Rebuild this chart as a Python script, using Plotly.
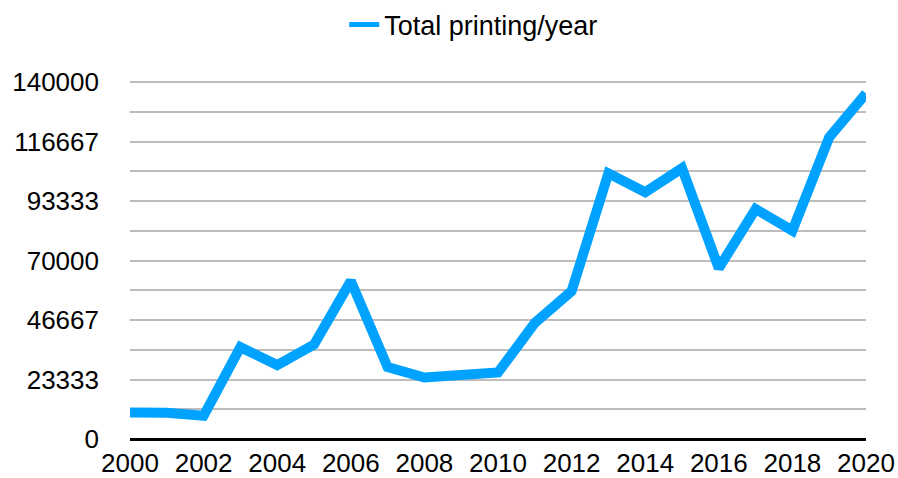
import plotly.graph_objects as go

years = list(range(2000, 2021))
totals = [10400, 10300, 9100, 36000, 29000, 37000, 62000, 28200, 24100, 25500, 26100,
          45500, 58000, 104200, 96800, 106200, 67000, 90200, 81700, 118300, 135500]
series_name = "Total printing/year"

ymax = 140000
grid_vals = [ymax * i / 12 for i in range(13)]
grid_text = [f"{round(v)}" if i % 2 == 0 else "" for i, v in enumerate(grid_vals)]
x_ticks = list(range(2000, 2021, 2))

FONT = "Liberation Sans, Arial, sans-serif"
COLOR = "#00a2ff"

fig = go.Figure()
fig.add_trace(go.Scatter(
    x=years, y=totals, mode="lines", name=series_name,
    line=dict(color=COLOR, width=10, shape="linear"),
    cliponaxis=False, showlegend=False, legendgroup="a",
))
# legend entry (thinner symbol like the reference)
fig.add_trace(go.Scatter(
    x=[None], y=[None], mode="lines", name=series_name,
    line=dict(color=COLOR, width=5), legendgroup="a", showlegend=True,
))

fig.update_layout(
    width=898, height=478,
    margin=dict(l=130, r=32, t=79, b=39, autoexpand=False),
    paper_bgcolor="white", plot_bgcolor="white",
    font=dict(family=FONT, size=26, color="#000000"),
    showlegend=True,
    legend=dict(orientation="h", x=0.467, xanchor="center", y=1.15, yanchor="middle",
                font=dict(size=27, family=FONT), bgcolor="rgba(0,0,0,0)"),
)
fig.update_xaxes(
    range=[2000, 2020], tickvals=x_ticks, ticktext=[str(t) for t in x_ticks],
    showgrid=False, zeroline=False, showline=False, ticks="",
    ticklabelstandoff=6, automargin=False,
)
fig.update_yaxes(
    range=[0, ymax * (1 + 3 / 357)], tickvals=grid_vals, ticktext=grid_text,
    showgrid=True, gridcolor="#bdbdbd", gridwidth=2,
    zeroline=True, zerolinecolor="#000000", zerolinewidth=3,
    showline=False, ticks="", ticklabelstandoff=30, automargin=False,
)
fig.write_html("out.html", config={"displayModeBar": False},
               post_script="document.body.style.margin='0';document.body.style.overflow='hidden';")
